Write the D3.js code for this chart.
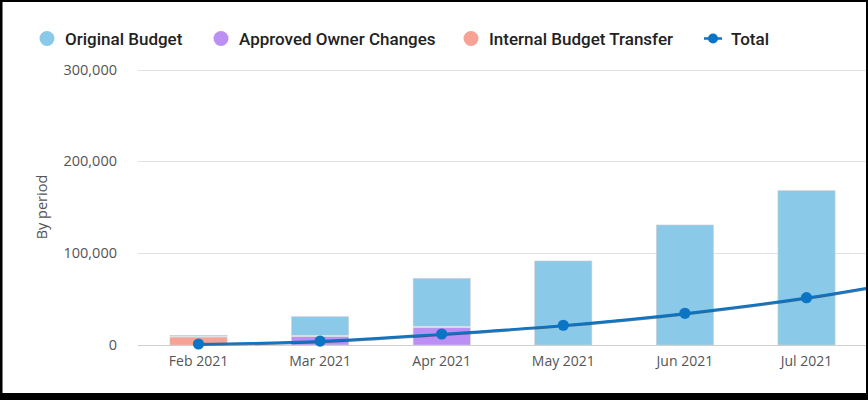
<!DOCTYPE html>
<html><head><meta charset="utf-8">
<script src="https://cdn.jsdelivr.net/npm/d3@7"></script>
<style>html,body{margin:0;padding:0;background:#fff;overflow:hidden}</style>
</head><body>
<svg id="c" width="868" height="400"></svg>
<script>
const categories = ["Feb 2021","Mar 2021","Apr 2021","May 2021","Jun 2021","Jul 2021","Aug 2021"];
const visibleCategories = ["Feb 2021","Mar 2021","Apr 2021","May 2021","Jun 2021","Jul 2021"];
const originalBudget = [2000, 21800, 53800, 91500, 130700, 168000, 205000];
const approvedOwnerChanges = [0, 9000, 18800, 0, 0, 0, 0];
const internalBudgetTransfer = [8500, 0, 0, 0, 0, 0, 0];
const total = [1100, 4200, 12000, 21500, 34500, 51500, 74000];
const yTicks = [0, 100000, 200000, 300000];
const seriesNames = ["Original Budget","Approved Owner Changes","Internal Budget Transfer","Total"];
const colors = {orig:"#8ACAE8", appr:"#BC8FF4", intl:"#F8A195", line:"#0B74C4"};

const svg = d3.select("#c");
const W = 868, H = 400;
const left = 137.7, step = 121.6;
const x = d3.scaleBand().domain(categories).range([left, left + step*categories.length]).paddingInner(0.53).paddingOuter(0.265);
const y = d3.scaleLinear().domain([0, 300000]).range([345, 69.5]);

svg.append("defs").append("clipPath").attr("id","clip")
  .append("rect").attr("x", 0).attr("y", 0).attr("width", 866).attr("height", 393);

const g = svg.append("g").attr("clip-path","url(#clip)");

// gridlines
g.append("g").selectAll("line").data(yTicks).join("line")
  .attr("x1", left).attr("x2", W)
  .attr("y1", d => Math.round(y(d))+0.5).attr("y2", d => Math.round(y(d))+0.5)
  .attr("stroke", d => d===0 ? "#cfcfcf" : "#e2e2e2").attr("stroke-width", 1.2);

// y tick labels
const yAxis = d3.axisLeft(y).tickValues(yTicks).tickFormat(d3.format(",")).tickSize(0).tickPadding(0);
const ya = svg.append("g").attr("transform","translate(117,0)").call(yAxis);
ya.select(".domain").remove();
ya.selectAll("text").attr("font-family","'Open Sans', sans-serif").attr("font-size",14.5).attr("fill","#555");

// x tick labels (only those inside the visible frame)
const xAxis = d3.axisBottom(x).tickValues(visibleCategories).tickSize(0).tickPadding(0);
const xa = svg.append("g").attr("transform","translate(0,356)").call(xAxis);
xa.select(".domain").remove();
xa.selectAll("text").attr("font-family","'Open Sans', sans-serif").attr("font-size",14).attr("fill","#555");

// y axis title
svg.append("text").attr("transform","translate(47,207) rotate(-90)")
  .attr("text-anchor","middle").attr("font-family","'Open Sans', sans-serif").attr("font-size",14.5).attr("fill","#555")
  .text("By period");

// stacked bars
const rows = categories.map((c,i) => ({cat:c, intl:internalBudgetTransfer[i], appr:approvedOwnerChanges[i], orig:originalBudget[i]}));
const stack = d3.stack().keys(["intl","appr","orig"])(rows);
const bars = g.append("g");
stack.forEach(layer => {
  bars.selectAll(null).data(layer.filter(d => d[1]-d[0] > 0)).join("rect")
    .attr("x", d => x(d.data.cat))
    .attr("width", x.bandwidth())
    .attr("y", d => y(d[1]))
    .attr("height", d => Math.max(0.8, y(d[0]) - y(d[1]) - (d[0] > 0 ? 1.5 : 0)))
    .attr("fill", colors[layer.key])
    .attr("stroke", "#cfcfcf").attr("stroke-width", 0.6);
});

// total line
const line = d3.line().x((d,i) => x(categories[i]) + x.bandwidth()/2).y(d => y(d)).curve(d3.curveMonotoneX);
g.append("path").datum(total).attr("d", line).attr("fill","none")
  .attr("stroke","#0a3f6e").attr("stroke-width",2.6).attr("transform","translate(0,0.8)").attr("opacity",0.7);
g.append("path").datum(total).attr("d", line).attr("fill","none")
  .attr("stroke",colors.line).attr("stroke-width",2.2);
g.append("g").selectAll("circle").data(total).join("circle")
  .attr("cx",(d,i) => x(categories[i]) + x.bandwidth()/2).attr("cy", d => y(d)).attr("r",5.6)
  .attr("fill",colors.line);

// legend
const legendX = [47, 221, 471, 713];
const lg = svg.append("g");
seriesNames.forEach((n,i) => {
  const cx = legendX[i];
  if (i < 3) {
    lg.append("circle").attr("cx",cx).attr("cy",38.5).attr("r",7.5).attr("fill",[colors.orig,colors.appr,colors.intl][i]);
  } else {
    lg.append("line").attr("x1",cx-9).attr("x2",cx+9).attr("y1",38.5).attr("y2",38.5).attr("stroke",colors.line).attr("stroke-width",2.5);
    lg.append("circle").attr("cx",cx).attr("cy",38.5).attr("r",5).attr("fill",colors.line);
  }
  lg.append("text").attr("x", cx + 18).attr("y", 44.5)
    .attr("font-family","Roboto, sans-serif").attr("font-weight",500).attr("font-size",17).attr("fill","#222")
    .text(n);
});

// black frame
svg.append("rect").attr("x",0).attr("y",0).attr("width",W).attr("height",2).attr("fill","#000");
svg.append("rect").attr("x",0).attr("y",0).attr("width",2.5).attr("height",H).attr("fill","#000");
svg.append("rect").attr("x",866).attr("y",0).attr("width",2).attr("height",H).attr("fill","#000");
svg.append("rect").attr("x",0).attr("y",393).attr("width",W).attr("height",7).attr("fill","#000");
</script>
</body></html>
